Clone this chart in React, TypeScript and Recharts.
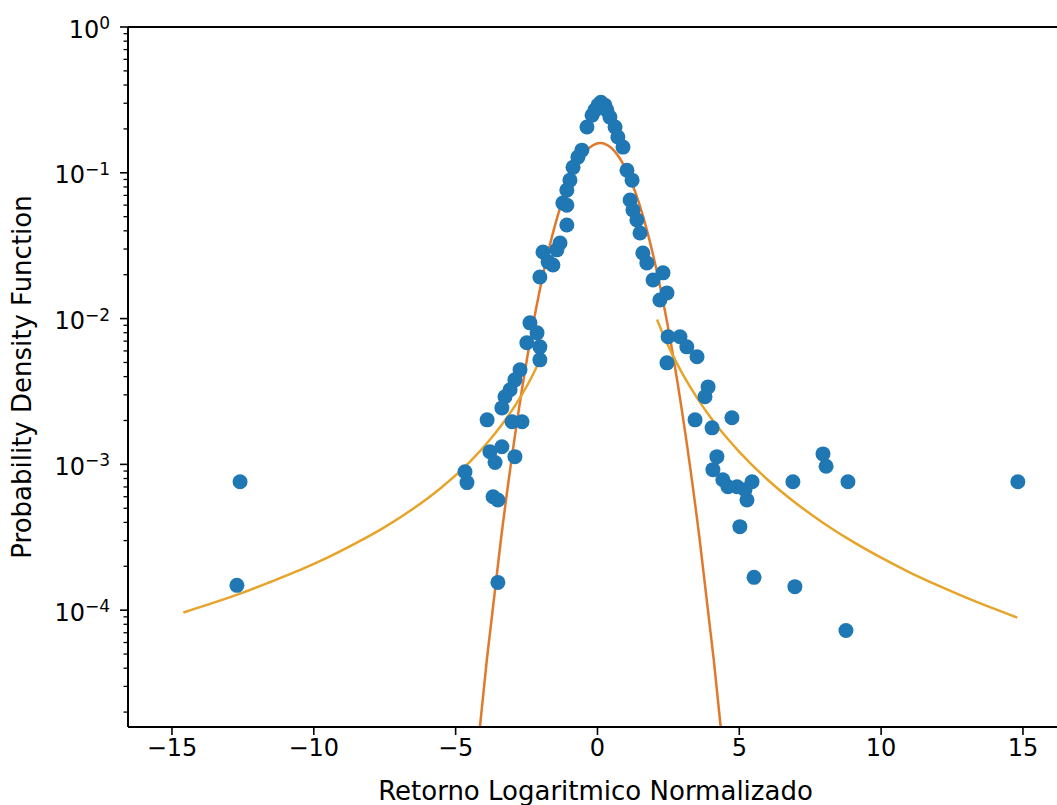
import React from "react";
import { ComposedChart, Scatter, Line, XAxis, YAxis, ReferenceLine, Label } from "recharts";

// scatter points
const scatterX = [
  0.02, 0.26, 0.12, -0.19, 0.44, -0.37, 0.62, -0.09, 0.33, 0.72, 0.9, -0.55, -0.69, -0.86, -0.97, -1.08, -1.22,
  1.04, 1.22, 1.15, 1.25, -1.08, -1.08, -1.32, -1.92, -1.57, -2.03, 1.39, 1.5, 1.6, 1.74, 2.31, 1.96, 2.45, 2.2,
  -1.74, -1.43,
  -2.38, -2.13, -2.49, -2.03, -2.03, -2.73, -2.91, -3.08, -3.26, -3.37, -3.89, -3.01, -2.66, -3.79, -3.37, -3.61,
  -2.91, -4.67, -4.6, -3.68, -3.51, -3.51,
  2.49, 2.91, 3.15, 3.51, 2.45, 3.9, 3.79, 3.44, 4.04, 4.74, 4.21, 4.07, 4.42, 4.92, 5.45, 5.27, 5.02, 4.6, 5.2,
  -12.6, -12.71, 14.82, 6.89, 7.95, 8.06, 8.83, 8.76, 6.96, 5.52,
];
const scatterY = [
  0.291, 0.291, 0.305, 0.248, 0.241, 0.206, 0.206, 0.269, 0.269, 0.176, 0.15, 0.143, 0.128, 0.109, 0.089, 0.076, 0.062,
  0.104, 0.089, 0.065, 0.0556, 0.06, 0.0438, 0.033, 0.0286, 0.0233, 0.0193, 0.0474, 0.0386, 0.0282, 0.0241, 0.0206, 0.0184, 0.015, 0.0134,
  0.0245, 0.0296,
  0.00935, 0.00798, 0.00682, 0.0064, 0.00521, 0.00446, 0.0038, 0.00325, 0.00291, 0.00244, 0.00202, 0.00196, 0.00196, 0.00122, 0.00132, 0.00103,
  0.00113, 0.00089, 0.00075, 0.0006, 0.00057, 0.000155,
  0.0075, 0.0075, 0.0064, 0.00547, 0.00497, 0.0034, 0.00291, 0.00202, 0.00178, 0.00209, 0.00113, 0.00092, 0.000785, 0.000703, 0.00076, 0.00057, 0.000374, 0.000703, 0.00067,
  0.00076, 0.000148, 0.00076, 0.00076, 0.00118, 0.00097, 0.00076, 0.0000726, 0.000145, 0.000168,
];

// gaussian fit curve
const gaussX = [-4.4, -3.9, -3.4, -2.9, -2.4, -1.9, -1.4, -0.9, -0.4, 0.1, 0.6, 1.1, 1.6, 2.1, 2.6, 3.1, 3.6, 4.1, 4.6];
const gaussY = [
  0.0000052, 0.0000456, 0.000309, 0.00162, 0.00659, 0.0208, 0.0508, 0.0961, 0.1408, 0.16,
  0.1408, 0.0961, 0.0508, 0.0208, 0.00659, 0.00162, 0.000309, 0.0000456, 0.0000052,
];

// power-law tails
const tailLeftX = [-14.6, -13.5, -12.5, -11.5, -10.5, -9.5, -8.5, -7.5, -6.5, -5.5, -4.5, -3.8, -3.2, -2.7, -2.3, -2.0, -1.8];
const tailLeftY = [
  0.0000964, 0.000113, 0.000132, 0.000157, 0.000188, 0.00023, 0.000289, 0.000371, 0.000496, 0.000695,
  0.00104, 0.00147, 0.00208, 0.00293, 0.00404, 0.00536, 0.00664,
];
const tailRightX = [2.1, 2.3, 2.6, 3.0, 3.5, 4.0, 4.5, 5.0, 6.0, 7.0, 8.0, 9.0, 10.0, 11.0, 12.0, 13.0, 14.0, 14.8];
const tailRightY = [
  0.00985, 0.00791, 0.00589, 0.00417, 0.00288, 0.00208, 0.00157, 0.00122, 0.000785, 0.000541,
  0.000392, 0.000295, 0.000229, 0.000182, 0.000148, 0.000122, 0.000102, 0.000089,
];

const xTicks = [-15, -10, -5, 0, 5, 10, 15];
const yMajorTicks = [0.0001, 0.001, 0.01, 0.1, 1];
const yDecades = [0.00001, 0.0001, 0.001, 0.01, 0.1];
const yMinorSteps = [2, 3, 4, 5, 6, 7, 8, 9];
const yMin = 0.0000158;

const yTicks = [...yMajorTicks, ...yDecades.flatMap((d) => yMinorSteps.map((m) => m * d))].filter((v) => v >= yMin && v <= 1);

const zip = (xs: number[], ys: number[]) => xs.map((x, i) => ({ x, y: ys[i] }));
const scatterData = zip(scatterX, scatterY);
const gaussData = zip(gaussX, gaussY);
const tailLeftData = zip(tailLeftX, tailLeftY);
const tailRightData = zip(tailRightX, tailRightY);

const FONT = "DejaVu Sans";

function LogTick(props: any) {
  const { x, y, payload } = props;
  const v = payload.value;
  const e = Math.round(Math.log10(v));
  const major = Math.abs(Math.log10(v) - e) < 1e-6;
  if (!major) {
    return <line x1={x - 4.5} x2={x} y1={y} y2={y} stroke="#000" strokeWidth={1.3} />;
  }
  return (
    <g>
      <line x1={x - 8} x2={x} y1={y} y2={y} stroke="#000" strokeWidth={1.6} />
      <text x={x - 18} y={y + 10.5} textAnchor="end" fontSize={24} fontFamily={FONT} fill="#000">
        10
        <tspan dy={-8.5} fontSize={17}>{e === 0 ? "0" : "\u2212" + Math.abs(e)}</tspan>
      </text>
    </g>
  );
}

const fmtX = (v: number) => (v < 0 ? "\u2212" + Math.abs(v) : String(v));

export default function App() {
  return (
    <div style={{ position: "absolute", left: 0, top: 0, width: 1057, height: 805, background: "#fff" }}>
      <ComposedChart width={1057} height={805} margin={{ top: 27, right: 0, bottom: 0, left: 0 }}>
        <XAxis
          type="number"
          dataKey="x"
          domain={[-16.55, 16.2]}
          allowDataOverflow
          ticks={xTicks}
          interval={0}
          tickFormatter={fmtX}
          height={78}
          tickSize={8}
          tickMargin={4}
          tick={{ fontSize: 24, fill: "#000", fontFamily: FONT }}
          tickLine={{ stroke: "#000", strokeWidth: 1.6 }}
          axisLine={{ stroke: "#000", strokeWidth: 2 }}
        >
          <Label
            content={(p: any) => {
              const vb = p.viewBox;
              return (
                <text x={vb.x + vb.width / 2 + 3} y={vb.y + 73} textAnchor="middle" fontSize={26} fontFamily={FONT} fill="#000">
                  Retorno Logaritmico Normalizado
                </text>
              );
            }}
          />
        </XAxis>
        <YAxis
          type="number"
          dataKey="y"
          scale="log"
          domain={[yMin, 1]}
          allowDataOverflow
          ticks={yTicks}
          interval={0}
          width={128}
          tickSize={0}
          tickMargin={0}
          tickLine={false}
          tick={<LogTick />}
          axisLine={{ stroke: "#000", strokeWidth: 2 }}
        >
          <Label
            content={(p: any) => {
              const vb = p.viewBox;
              const cx = vb.x + 31;
              const cy = vb.y + vb.height / 2;
              return (
                <text x={cx} y={cy} transform={`rotate(-90, ${cx}, ${cy})`} textAnchor="middle" fontSize={26} fontFamily={FONT} fill="#000">
                  Probability Density Function
                </text>
              );
            }}
          />
        </YAxis>
        <ReferenceLine y={1} stroke="#000" strokeWidth={2} ifOverflow="visible" />
        <Scatter
          data={scatterData}
          dataKey="y"
          isAnimationActive={false}
          shape={(p: any) => <circle cx={p.cx} cy={p.cy} r={7.5} fill="#1f77b4" />}
        />
        <Line data={gaussData} dataKey="y" type="monotone" stroke="#e2782b" strokeWidth={2.5} dot={false} isAnimationActive={false} />
        <Line data={tailLeftData} dataKey="y" type="monotone" stroke="#e6a42a" strokeWidth={2.5} dot={false} isAnimationActive={false} />
        <Line data={tailRightData} dataKey="y" type="monotone" stroke="#e6a42a" strokeWidth={2.5} dot={false} isAnimationActive={false} />
      </ComposedChart>
    </div>
  );
}
